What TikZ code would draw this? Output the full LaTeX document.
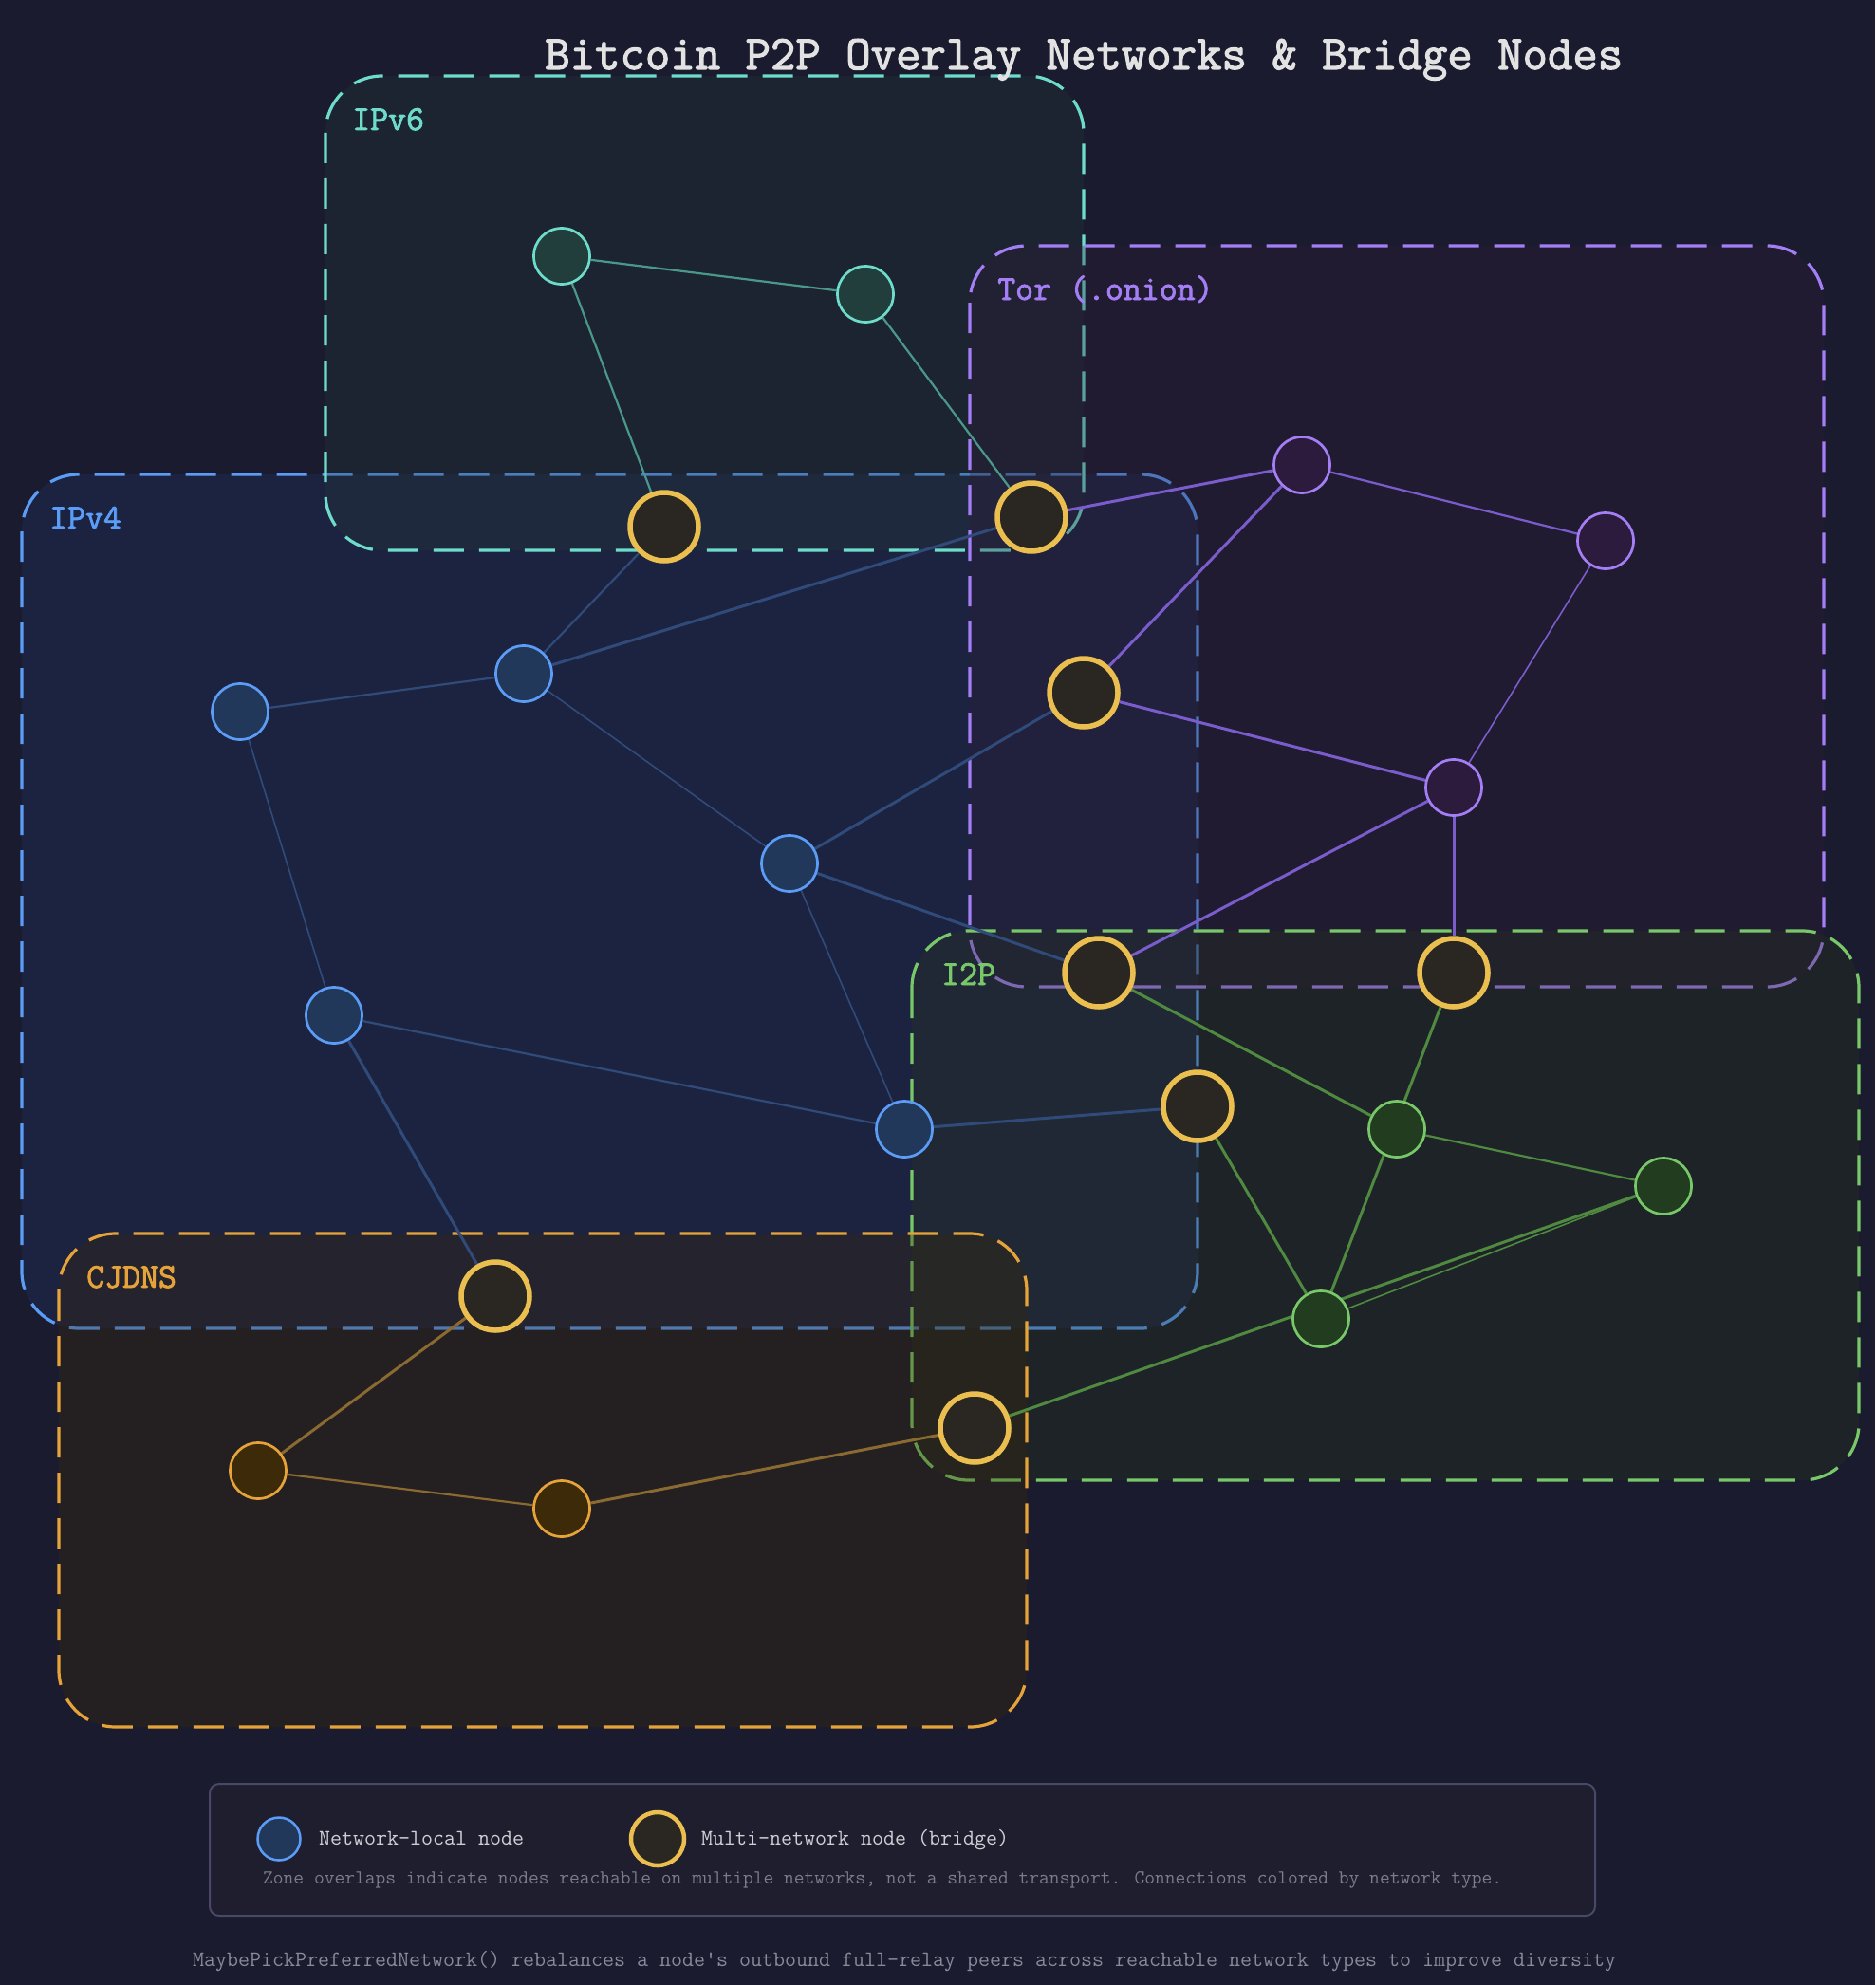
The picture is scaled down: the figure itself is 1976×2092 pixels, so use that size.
\documentclass[tikz,border=0pt]{standalone}
\usepackage{fontspec}
\usetikzlibrary{positioning}

\newfontfamily\heavymono{Latin Modern Mono}[FakeBold=2.2]

\definecolor{bgc}{HTML}{1A1B2E}
% zone strokes, fills, links and node fills
\definecolor{v4}{HTML}{5B9CF6}
\definecolor{v4fill}{HTML}{21366A}
\definecolor{v4edge}{HTML}{304B7A}
\definecolor{v4node}{HTML}{22385A}
\definecolor{v6}{HTML}{6EDCCA}
\definecolor{v6fill}{HTML}{27393B}
\definecolor{v6edge}{HTML}{4A988A}
\definecolor{v6node}{HTML}{213D3C}
\definecolor{tor}{HTML}{A47EF5}
\definecolor{torfill}{HTML}{2E1B38}
\definecolor{toredge}{HTML}{7A5CCC}
\definecolor{tornode}{HTML}{2C1B3C}
\definecolor{itp}{HTML}{78C86A}
\definecolor{itpfill}{HTML}{27361A}
\definecolor{itpedge}{HTML}{4F8A40}
\definecolor{itpnode}{HTML}{213C1E}
\definecolor{cj}{HTML}{E6A33A}
\definecolor{cjfill}{HTML}{3C2906}
\definecolor{cjedge}{HTML}{8A6A30}
\definecolor{cjnode}{HTML}{3C2A08}
\definecolor{ring}{HTML}{EBBF4F}
\definecolor{bridgefill}{HTML}{2A2621}
\definecolor{titlec}{HTML}{E2E2E2}
\definecolor{keytext}{HTML}{CFCFD4}
\definecolor{notetext}{HTML}{7C7C8C}
\definecolor{foottext}{HTML}{8A8A9A}
\definecolor{keyfill}{HTML}{1F1E2F}
\definecolor{keydraw}{HTML}{4A4868}

\newcommand{\zonename}[1]{{\fontsize{36.8}{36.8}\selectfont\heavymono #1}}
\newcommand{\keyline}[1]{{\fontsize{23.3}{23.3}\selectfont\ttfamily #1}}

\pgfdeclarelayer{zonelayer}
\pgfdeclarelayer{linklayer}
\pgfsetlayers{zonelayer,linklayer,main}

\begin{document}
\begin{tikzpicture}[
    x=1pt, y=-1pt,
    zone/.style={
        draw=#1,
        fill=#1fill,
        fill opacity=0.3,
        line width=3.2pt,
        dash pattern=on 32pt off 16pt,
        rounded corners=60pt
    },
    zonetag/.style={text=#1, anchor=base west, inner sep=0pt},
    localnode/.style={
        circle,
        draw=#1,
        fill=#1node,
        line width=2.7pt,
        minimum size=59pt,
        inner sep=0pt
    },
    bridge/.style={
        circle,
        draw=ring,
        fill=bridgefill,
        line width=5.5pt,
        minimum size=72pt,
        inner sep=0pt
    },
    link/.style={draw=#1edge, line width=2.2pt},
    faint/.style={line width=1.6pt},
    heavy/.style={line width=3pt}
]

    \begin{pgfonlayer}{zonelayer}
    \fill[bgc] (0,0) rectangle (1976,2092);
    \useasboundingbox (0,0) rectangle (1976,2092);

    % --- Zones (later ones cover the strokes of earlier ones) ---
    \draw[zone=v4]  (23,500)   rectangle (1262,1400);
    \node[zonetag=v4] (tag4) at (52,557) {\zonename{IPv4}};

    \draw[zone=v6]  (343,80)   rectangle (1142,580);
    \node[zonetag=v6] (tag6) at (371,137) {\zonename{IPv6}};

    \draw[zone=tor] (1022,259) rectangle (1922,1040);
    \node[zonetag=tor] (tagtor) at (1051,316) {\zonename{Tor (.onion)}};

    \draw[zone=itp] (961,981)  rectangle (1959,1560);
    \node[zonetag=itp] (tagitp) at (992,1038) {\zonename{I2P}};

    \draw[zone=cj]  (62,1300)  rectangle (1082,1820);
    \node[zonetag=cj] (tagcj) at (91,1357) {\zonename{CJDNS}};
    \end{pgfonlayer}

    % --- Title ---
    \node[anchor=base west, inner sep=0pt, text=titlec] (title) at (574,73)
        {\fontsize{51.3}{51.3}\selectfont\heavymono Bitcoin P2P Overlay Networks \& Bridge Nodes};

    % --- Bridge (multi-network) nodes ---
    \node[bridge] (b1) at (700,555)   {};
    \node[bridge] (b2) at (1087,545)  {};
    \node[bridge] (b3) at (1142,730)  {};
    \node[bridge] (b4) at (1158,1025) {};
    \node[bridge] (b5) at (1532,1025) {};
    \node[bridge] (b6) at (1262,1166) {};
    \node[bridge] (b7) at (522,1366)  {};
    \node[bridge] (b8) at (1027,1505) {};

    % --- Network-local nodes ---
    \node[localnode=v6] (v6a) at (592,270) {};
    \node[localnode=v6] (v6b) at (912,310) {};

    \node[localnode=v4] (v4a) at (253,750)  {};
    \node[localnode=v4] (v4b) at (552,710)  {};
    \node[localnode=v4] (v4c) at (832,910)  {};
    \node[localnode=v4] (v4d) at (352,1070) {};
    \node[localnode=v4] (v4e) at (953,1190) {};

    \node[localnode=tor] (t1) at (1372,490) {};
    \node[localnode=tor] (t2) at (1692,570) {};
    \node[localnode=tor] (t3) at (1532,830) {};

    \node[localnode=itp] (i1) at (1472,1190) {};
    \node[localnode=itp] (i2) at (1753,1250) {};
    \node[localnode=itp] (i3) at (1392,1390) {};

    \node[localnode=cj] (c1) at (272,1550) {};
    \node[localnode=cj] (c2) at (592,1590) {};

    % --- Connections, colored by network ---
    \begin{pgfonlayer}{linklayer}
    \draw[link=v6] (v6a) -- (v6b);
    \draw[link=v6] (v6a) -- (b1);
    \draw[link=v6] (v6b) -- (b2);

    \draw[link=v4] (b1) -- (v4b);
    \draw[link=v4, heavy] (b2) -- (v4b);
    \draw[link=v4] (v4a) -- (v4b);
    \draw[link=v4, faint] (v4b) -- (v4c);
    \draw[link=v4, heavy] (v4c) -- (b3);
    \draw[link=v4, heavy] (v4c) -- (b4);
    \draw[link=v4, faint] (v4a) -- (v4d);
    \draw[link=v4] (v4d) -- (v4e);
    \draw[link=v4, faint] (v4c) -- (v4e);
    \draw[link=v4, heavy] (v4e) -- (b6);
    \draw[link=v4, heavy] (v4d) -- (b7);

    \draw[link=tor, heavy] (b2) -- (t1);
    \draw[link=tor] (t1) -- (t2);
    \draw[link=tor, heavy] (t1) -- (b3);
    \draw[link=tor, heavy] (b3) -- (t3);
    \draw[link=tor, faint] (t2) -- (t3);
    \draw[link=tor, heavy] (t3) -- (b4);
    \draw[link=tor, heavy] (t3) -- (b5);

    \draw[link=itp, heavy] (b4) -- (i1);
    \draw[link=itp] (i1) -- (i2);
    \draw[link=itp, heavy] (b5) -- (i3);
    \draw[link=itp, heavy] (b6) -- (i3);
    \draw[link=itp, faint] (i2) -- (i3);
    \draw[link=itp, heavy] (i2) -- (b8);

    \draw[link=cj, heavy] (b7) -- (c1);
    \draw[link=cj] (c1) -- (c2);
    \draw[link=cj, heavy] (c2) -- (b8);
    \end{pgfonlayer}

    % --- Legend ---
    \draw[fill=keyfill, draw=keydraw, line width=2pt, rounded corners=10pt]
        (221,1880) rectangle (1681,2019);
    \node[circle, draw=v4, fill=v4node, line width=2.5pt, minimum size=45pt, inner sep=0pt]
        (keylocal) at (294,1938) {};
    \node[anchor=base west, inner sep=0pt, text=keytext] (keylocaltxt) at (336,1944)
        {\keyline{Network-local node}};
    \node[circle, draw=ring, fill=bridgefill, line width=4.5pt, minimum size=56pt, inner sep=0pt]
        (keybridge) at (693,1938) {};
    \node[anchor=base west, inner sep=0pt, text=keytext] (keybridgetxt) at (739,1944)
        {\keyline{Multi-network node (bridge)}};
    \node[anchor=base west, inner sep=0pt, text=notetext] (keynote) at (277,1985)
        {\fontsize{20.9}{20.9}\selectfont\ttfamily Zone overlaps indicate nodes reachable on multiple networks, not a shared transport. Connections colored by network type.};

    % --- Footer ---
    \node[anchor=base west, inner sep=0pt, text=foottext] (footer) at (203,2072)
        {\keyline{MaybePickPreferredNetwork() rebalances a node's outbound full-relay peers across reachable network types to improve diversity}};

\end{tikzpicture}
\end{document}
